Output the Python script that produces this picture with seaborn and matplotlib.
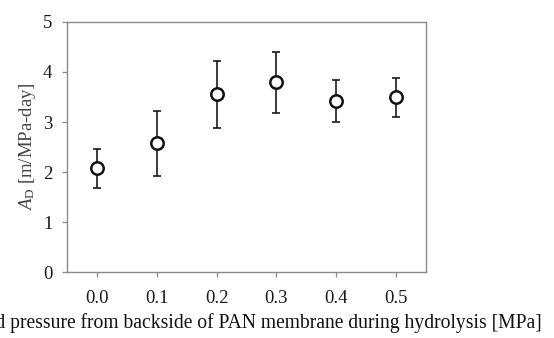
import matplotlib
matplotlib.use("Agg")
import matplotlib.pyplot as plt
import pandas as pd
import seaborn as sns

# values
pressure = [0.0, 0.1, 0.2, 0.3, 0.4, 0.5]
a_d = [2.08, 2.58, 3.56, 3.80, 3.42, 3.50]
err_low = [0.40, 0.66, 0.67, 0.61, 0.41, 0.39]
err_high = [0.38, 0.65, 0.66, 0.60, 0.42, 0.38]
x_ticks = [0.0, 0.1, 0.2, 0.3, 0.4, 0.5]
x_tick_labels = ["0.0", "0.1", "0.2", "0.3", "0.4", "0.5"]
y_ticks = [0, 1, 2, 3, 4, 5]


def main() -> None:
    sns.set_theme(style="white")
    plt.rcParams["font.family"] = ["Liberation Serif", "DejaVu Serif"]
    plt.rcParams["mathtext.fontset"] = "custom"
    plt.rcParams["mathtext.rm"] = "Liberation Serif"
    plt.rcParams["mathtext.it"] = "Liberation Serif:italic"

    df = pd.DataFrame({"pressure": pressure, "ad": a_d})

    fig = plt.figure(figsize=(5.54, 3.38), dpi=100)
    ax = fig.add_axes([0.121, 0.195, 0.648, 0.740])

    ax.errorbar(
        df["pressure"], df["ad"], yerr=[err_low, err_high],
        fmt="none", ecolor="#1a1a1a", elinewidth=1.2, capsize=3.2,
        capthick=1.2, zorder=2,
    )
    sns.scatterplot(
        data=df, x="pressure", y="ad", ax=ax, marker="o", s=80,
        facecolor="white", edgecolor="#111111", linewidth=1.8, zorder=3,
    )

    ax.set_xlim(-0.05, 0.55)
    ax.set_ylim(0, 5)
    ax.set_xticks(x_ticks)
    ax.set_xticklabels(x_tick_labels)
    ax.set_yticks(y_ticks)

    for side in ["left", "right", "top", "bottom"]:
        ax.spines[side].set_color("#8a8a8a")
        ax.spines[side].set_linewidth(1.0)
        ax.spines[side].set_visible(True)

    ax.tick_params(axis="both", which="major", direction="out", length=3.5,
                   width=0.9, color="#8a8a8a", labelsize=13.5,
                   labelcolor="#1a1a1a", bottom=True, left=True)
    ax.tick_params(axis="x", pad=9.5)
    ax.tick_params(axis="y", pad=7)

    ax.set_xlabel(
        "Applied pressure from backside of PAN membrane during hydrolysis [MPa]",
        fontsize=14.1, color="#111111", labelpad=4,
    )
    ax.xaxis.set_label_coords(0.486, -0.165)
    ax.set_ylabel(r"$\mathit{A}_{\mathrm{D}}$ [m/MPa-day]", fontsize=13.5,
                  color="#444444", labelpad=4)

    fig.savefig("out.png", dpi=100)


if __name__ == "__main__":
    main()
